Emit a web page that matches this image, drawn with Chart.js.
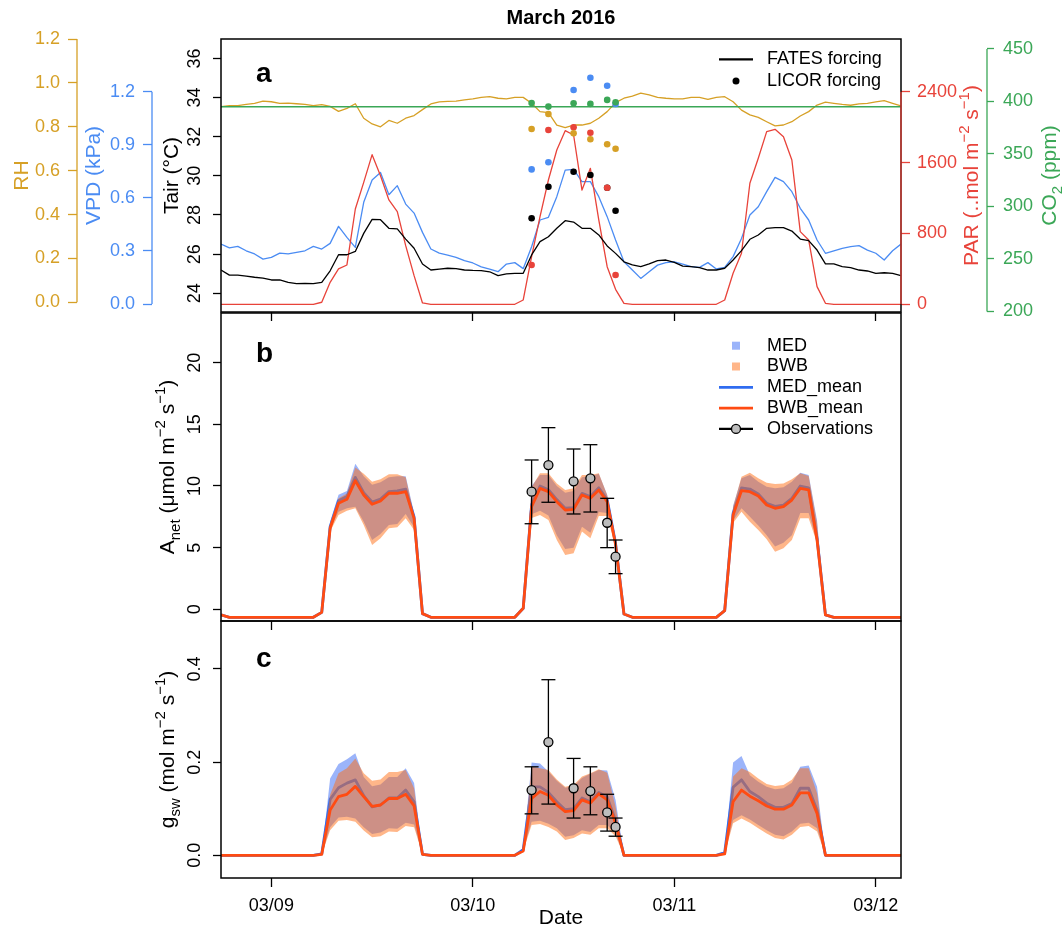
<!DOCTYPE html>
<html>
<head>
<meta charset="utf-8">
<title>March 2016</title>
<script src="https://cdn.jsdelivr.net/npm/chart.js@4.4.1/dist/chart.umd.min.js"></script>
<style>
  html, body { margin: 0; padding: 0; background: #fff; overflow: hidden; }
  #wrap { position: relative; width: 1063px; height: 931px; }
  canvas { position: absolute; left: 0; }
</style>
</head>
<body>
<div id="wrap">
  <canvas id="panelA" width="1063" height="321" style="top:0px"></canvas>
  <canvas id="panelB" width="1063" height="330" style="top:300px"></canvas>
  <canvas id="panelC" width="1063" height="321" style="top:610px"></canvas>
</div>
<script>
const FONT = 'Helvetica, "Liberation Sans", Arial, sans-serif';

// hourly time axis, hours since 03/09 00:00
const hours = Array.from({ length: 82 }, (_, i) => i - 6);
const dayTicks = [0, 24, 48, 72];
const dayLabels = ['03/09', '03/10', '03/11', '03/12'];

// ---- panel a: FATES forcing (hourly, h = -6 .. 75)
const tairForcing = [
  25.19, 24.93, 24.93, 24.88, 24.82, 24.78,
  24.68, 24.68, 24.56, 24.49, 24.51, 24.49, 24.56, 25.15, 25.97, 25.97, 26.14, 27.06,
  27.78, 27.76, 27.32, 27.29, 26.77, 26.30, 25.50, 25.19, 25.24, 25.28, 25.26, 25.19,
  25.17, 25.16, 25.10, 24.90, 24.99, 25.02, 25.02, 25.96, 26.64, 26.89, 27.32, 27.71,
  27.64, 27.32, 27.32, 26.98, 26.42, 26.04, 25.61, 25.45, 25.36, 25.50, 25.67, 25.70,
  25.58, 25.39, 25.36, 25.31, 25.19, 25.19, 25.28, 25.70, 26.18, 26.76, 26.98, 27.32,
  27.35, 27.35, 27.18, 26.77, 26.69, 26.21, 25.50, 25.50, 25.36, 25.31, 25.19, 25.14,
  25.02, 25.05, 25.02, 24.90
];
const vpdForcing = [
  0.339, 0.317, 0.326, 0.301, 0.283, 0.254,
  0.264, 0.288, 0.283, 0.292, 0.301, 0.326, 0.311, 0.343, 0.439, 0.377, 0.320, 0.575,
  0.701, 0.744, 0.618, 0.669, 0.565, 0.514, 0.405, 0.311, 0.288, 0.277, 0.264, 0.245,
  0.232, 0.210, 0.198, 0.183, 0.226, 0.234, 0.200, 0.324, 0.475, 0.490, 0.607, 0.757,
  0.761, 0.692, 0.692, 0.607, 0.494, 0.362, 0.239, 0.192, 0.145, 0.183, 0.220, 0.234,
  0.239, 0.226, 0.211, 0.207, 0.234, 0.198, 0.207, 0.268, 0.371, 0.503, 0.550, 0.635,
  0.716, 0.692, 0.635, 0.541, 0.475, 0.362, 0.287, 0.301, 0.315, 0.324, 0.330, 0.305,
  0.287, 0.249, 0.301, 0.339
];
const rhForcing = [
  0.892, 0.896, 0.896, 0.902, 0.907, 0.917,
  0.914, 0.907, 0.908, 0.905, 0.902, 0.896, 0.901, 0.893, 0.870, 0.884, 0.905, 0.839,
  0.813, 0.800, 0.829, 0.816, 0.839, 0.851, 0.878, 0.904, 0.913, 0.916, 0.917, 0.923,
  0.927, 0.934, 0.937, 0.930, 0.927, 0.934, 0.934, 0.907, 0.869, 0.864, 0.808, 0.796,
  0.808, 0.808, 0.816, 0.839, 0.869, 0.910, 0.930, 0.940, 0.953, 0.945, 0.934, 0.930,
  0.927, 0.927, 0.934, 0.934, 0.925, 0.934, 0.937, 0.914, 0.876, 0.854, 0.843, 0.823,
  0.804, 0.808, 0.823, 0.849, 0.869, 0.899, 0.912, 0.907, 0.902, 0.898, 0.904, 0.907,
  0.913, 0.919, 0.907, 0.895
];
const parForcing = [
  0, 0, 0, 0, 0, 0,
  0, 0, 0, 0, 0, 0, 23, 248, 399, 444, 1076, 1377,
  1689, 1452, 1178, 1046, 662, 323, 15, 0, 0, 0, 0, 0,
  0, 0, 0, 0, 0, 0, 49, 537, 989, 1403, 1742, 1960,
  1911, 1290, 1535, 952, 424, 169, 11, 0, 0, 0, 0, 0,
  0, 0, 0, 0, 0, 0, 49, 350, 576, 1366, 1648, 1949,
  1975, 1892, 1629, 820, 726, 199, 11, 0, 0, 0, 0, 0,
  0, 0, 0, 0
];
const co2Hours = [-6, 75];
const co2Forcing = [395, 395];

// ---- panel a: LICOR chamber readings
const licorHours = [31, 33, 36, 38, 40, 41];
const licorTair = [27.83, 29.44, 30.21, 30.04, 29.39, 28.22];
const licorVpd = [0.761, 0.801, 1.210, 1.279, 1.234, 1.131];
const licorRh = [0.790, 0.858, 0.770, 0.743, 0.720, 0.700];
const licorPar = [444, 1968, 1998, 1937, 1316, 331];
const licorCo2 = [398.6, 395.1, 398.3, 397.7, 401.5, 399.3];

// ---- panel b: net assimilation (umol m-2 s-1)
const bwbMeanB = [
  -0.45, -0.65, -0.65, -0.65, -0.65, -0.65,
  -0.65, -0.65, -0.65, -0.65, -0.65, -0.65, -0.25, 6.57, 8.60, 8.92, 10.43, 9.27,
  8.52, 8.78, 9.41, 9.41, 9.54, 7.38, -0.35, -0.65, -0.65, -0.65, -0.65, -0.65,
  -0.65, -0.65, -0.65, -0.65, -0.65, -0.65, 0.08, 8.32, 9.81, 9.54, 8.73, 8.05,
  8.11, 9.27, 9.00, 9.68, 8.73, 5.25, -0.38, -0.65, -0.65, -0.65, -0.65, -0.65,
  -0.65, -0.65, -0.65, -0.65, -0.65, -0.65, -0.11, 7.65, 9.62, 9.54, 9.19, 8.46,
  8.19, 8.32, 8.86, 9.81, 9.68, 5.62, -0.46, -0.65, -0.65, -0.65, -0.65, -0.65,
  -0.65, -0.65, -0.65, -0.65
];
const bwbLoB = [
  -0.45, -0.65, -0.65, -0.65, -0.65, -0.65,
  -0.65, -0.65, -0.65, -0.65, -0.65, -0.65, -0.25, 6.30, 7.65, 8.00, 8.19, 6.84,
  5.21, 5.76, 6.57, 6.65, 7.38, 6.43, -0.35, -0.65, -0.65, -0.65, -0.65, -0.65,
  -0.65, -0.65, -0.65, -0.65, -0.65, -0.65, 0.08, 7.40, 7.65, 7.24, 5.62, 4.40,
  4.54, 6.30, 5.76, 7.57, 7.57, 5.00, -0.38, -0.65, -0.65, -0.65, -0.65, -0.65,
  -0.65, -0.65, -0.65, -0.65, -0.65, -0.65, -0.11, 7.00, 7.92, 7.11, 6.43, 5.68,
  4.67, 4.95, 5.62, 7.38, 7.38, 5.35, -0.46, -0.65, -0.65, -0.65, -0.65, -0.65,
  -0.65, -0.65, -0.65, -0.65
];
const bwbHiB = [
  -0.45, -0.65, -0.65, -0.65, -0.65, -0.65,
  -0.65, -0.65, -0.65, -0.65, -0.65, -0.65, -0.25, 7.00, 9.00, 9.40, 11.50, 11.00,
  10.35, 10.54, 10.95, 10.95, 10.70, 7.65, -0.35, -0.65, -0.65, -0.65, -0.65, -0.65,
  -0.65, -0.65, -0.65, -0.65, -0.65, -0.65, 0.08, 9.90, 11.03, 11.03, 10.21, 9.68,
  9.81, 10.89, 10.89, 11.03, 9.27, 5.62, -0.38, -0.65, -0.65, -0.65, -0.65, -0.65,
  -0.65, -0.65, -0.65, -0.65, -0.65, -0.65, -0.11, 8.30, 10.75, 11.08, 10.62, 10.27,
  10.16, 10.20, 10.54, 11.03, 10.81, 6.97, -0.46, -0.65, -0.65, -0.65, -0.65, -0.65,
  -0.65, -0.65, -0.65, -0.65
];
const medMeanB = [
  -0.45, -0.65, -0.65, -0.65, -0.65, -0.65,
  -0.65, -0.65, -0.65, -0.65, -0.65, -0.65, -0.25, 6.70, 8.80, 9.15, 10.70, 9.45,
  8.70, 8.95, 9.55, 9.60, 9.75, 7.50, -0.35, -0.65, -0.65, -0.65, -0.65, -0.65,
  -0.65, -0.65, -0.65, -0.65, -0.65, -0.65, 0.08, 8.50, 10.00, 9.70, 8.90, 8.20,
  8.25, 9.40, 9.15, 9.85, 8.90, 5.35, -0.38, -0.65, -0.65, -0.65, -0.65, -0.65,
  -0.65, -0.65, -0.65, -0.65, -0.65, -0.65, -0.11, 7.80, 9.85, 9.75, 9.35, 8.60,
  8.35, 8.45, 9.00, 10.00, 9.85, 5.75, -0.46, -0.65, -0.65, -0.65, -0.65, -0.65,
  -0.65, -0.65, -0.65, -0.65
];
const medLoB = [
  -0.45, -0.65, -0.65, -0.65, -0.65, -0.65,
  -0.65, -0.65, -0.65, -0.65, -0.65, -0.65, -0.25, 6.50, 7.92, 8.19, 8.32, 7.11,
  5.62, 6.11, 6.84, 6.92, 7.73, 6.65, -0.35, -0.65, -0.65, -0.65, -0.65, -0.65,
  -0.65, -0.65, -0.65, -0.65, -0.65, -0.65, 0.08, 7.70, 8.00, 7.60, 6.00, 4.90,
  5.00, 6.70, 6.20, 7.90, 7.80, 5.15, -0.38, -0.65, -0.65, -0.65, -0.65, -0.65,
  -0.65, -0.65, -0.65, -0.65, -0.65, -0.65, -0.11, 7.20, 8.20, 7.50, 6.80, 6.00,
  5.10, 5.40, 6.00, 7.80, 7.80, 5.50, -0.46, -0.65, -0.65, -0.65, -0.65, -0.65,
  -0.65, -0.65, -0.65, -0.65
];
const medHiB = [
  -0.45, -0.65, -0.65, -0.65, -0.65, -0.65,
  -0.65, -0.65, -0.65, -0.65, -0.65, -0.65, -0.25, 7.10, 9.30, 9.60, 11.80, 10.80,
  10.10, 10.30, 10.70, 10.80, 10.80, 7.80, -0.35, -0.65, -0.65, -0.65, -0.65, -0.65,
  -0.65, -0.65, -0.65, -0.65, -0.65, -0.65, 0.08, 10.00, 10.90, 10.90, 10.00, 9.45,
  9.60, 10.70, 10.80, 11.00, 9.30, 5.80, -0.38, -0.65, -0.65, -0.65, -0.65, -0.65,
  -0.65, -0.65, -0.65, -0.65, -0.65, -0.65, -0.11, 8.40, 10.62, 10.89, 10.35, 9.94,
  9.81, 9.89, 10.35, 11.08, 10.89, 7.20, -0.46, -0.65, -0.65, -0.65, -0.65, -0.65,
  -0.65, -0.65, -0.65, -0.65
];
const obsHours = [31, 33, 36, 38, 40, 41];
const anetObs = [9.54, 11.70, 10.38, 10.62, 7.02, 4.27];
const anetObsLo = [6.94, 8.68, 7.73, 7.89, 5.00, 2.89];
const anetObsHi = [12.11, 14.73, 13.00, 13.35, 9.00, 5.62];

// ---- panel c: stomatal conductance (mol m-2 s-1)
const bwbMeanC = [
  0, 0, 0, 0, 0, 0,
  0, 0, 0, 0, 0, 0, 0.002, 0.097, 0.126, 0.131, 0.148, 0.126,
  0.105, 0.108, 0.122, 0.122, 0.131, 0.106, 0.002, 0, 0, 0, 0, 0,
  0, 0, 0, 0, 0, 0, 0.009, 0.122, 0.137, 0.129, 0.108, 0.094,
  0.096, 0.119, 0.112, 0.132, 0.119, 0.069, 0, 0, 0, 0, 0, 0,
  0, 0, 0, 0, 0, 0, 0.003, 0.115, 0.140, 0.127, 0.117, 0.106,
  0.099, 0.099, 0.108, 0.134, 0.134, 0.090, 0, 0, 0, 0, 0, 0,
  0, 0, 0, 0
];
const bwbLoC = [
  0, 0, 0, 0, 0, 0,
  0, 0, 0, 0, 0, 0, 0.002, 0.054, 0.074, 0.076, 0.072, 0.053,
  0.039, 0.041, 0.051, 0.050, 0.063, 0.060, 0.002, 0, 0, 0, 0, 0,
  0, 0, 0, 0, 0, 0, 0.009, 0.065, 0.067, 0.061, 0.051, 0.033,
  0.037, 0.047, 0.044, 0.058, 0.058, 0.041, 0, 0, 0, 0, 0, 0,
  0, 0, 0, 0, 0, 0, 0.003, 0.069, 0.079, 0.070, 0.058, 0.047,
  0.037, 0.034, 0.044, 0.061, 0.063, 0.051, 0, 0, 0, 0, 0, 0,
  0, 0, 0, 0
];
const bwbHiC = [
  0, 0, 0, 0, 0, 0,
  0, 0, 0, 0, 0, 0, 0.002, 0.130, 0.176, 0.187, 0.208, 0.176,
  0.160, 0.163, 0.179, 0.179, 0.183, 0.144, 0.002, 0, 0, 0, 0, 0,
  0, 0, 0, 0, 0, 0, 0.009, 0.190, 0.187, 0.183, 0.163, 0.147,
  0.151, 0.169, 0.176, 0.185, 0.177, 0.104, 0, 0, 0, 0, 0, 0,
  0, 0, 0, 0, 0, 0, 0.003, 0.169, 0.187, 0.179, 0.165, 0.153,
  0.149, 0.151, 0.162, 0.187, 0.187, 0.133, 0, 0, 0, 0, 0, 0,
  0, 0, 0, 0
];
const medMeanC = [
  0, 0, 0, 0, 0, 0,
  0, 0, 0, 0, 0, 0, 0.003, 0.120, 0.145, 0.155, 0.162, 0.128,
  0.104, 0.108, 0.123, 0.123, 0.140, 0.115, 0.002, 0, 0, 0, 0, 0,
  0, 0, 0, 0, 0, 0, 0.012, 0.147, 0.147, 0.135, 0.115, 0.098,
  0.100, 0.123, 0.115, 0.135, 0.125, 0.075, 0, 0, 0, 0, 0, 0,
  0, 0, 0, 0, 0, 0, 0.006, 0.146, 0.162, 0.137, 0.126, 0.112,
  0.103, 0.103, 0.111, 0.144, 0.144, 0.097, 0, 0, 0, 0, 0, 0,
  0, 0, 0, 0
];
const medLoC = [
  0, 0, 0, 0, 0, 0,
  0, 0, 0, 0, 0, 0, 0.002, 0.060, 0.081, 0.083, 0.079, 0.060,
  0.046, 0.049, 0.058, 0.057, 0.070, 0.066, 0.002, 0, 0, 0, 0, 0,
  0, 0, 0, 0, 0, 0, 0.009, 0.072, 0.074, 0.068, 0.058, 0.040,
  0.043, 0.054, 0.050, 0.065, 0.065, 0.046, 0, 0, 0, 0, 0, 0,
  0, 0, 0, 0, 0, 0, 0.003, 0.076, 0.086, 0.077, 0.065, 0.054,
  0.044, 0.041, 0.051, 0.068, 0.070, 0.058, 0, 0, 0, 0, 0, 0,
  0, 0, 0, 0
];
const medHiC = [
  0, 0, 0, 0, 0, 0,
  0, 0, 0, 0, 0, 0, 0.004, 0.165, 0.196, 0.206, 0.219, 0.168,
  0.148, 0.152, 0.168, 0.168, 0.187, 0.155, 0.002, 0, 0, 0, 0, 0,
  0, 0, 0, 0, 0, 0, 0.015, 0.199, 0.197, 0.180, 0.160, 0.145,
  0.148, 0.166, 0.175, 0.183, 0.182, 0.119, 0, 0, 0, 0, 0, 0,
  0, 0, 0, 0, 0, 0, 0.008, 0.199, 0.213, 0.172, 0.158, 0.147,
  0.142, 0.144, 0.156, 0.190, 0.193, 0.147, 0, 0, 0, 0, 0, 0,
  0, 0, 0, 0
];
const gswObs = [0.140, 0.243, 0.144, 0.138, 0.092, 0.061];
const gswObsLo = [0.089, 0.110, 0.080, 0.087, 0.052, 0.041];
const gswObsHi = [0.190, 0.377, 0.208, 0.190, 0.131, 0.080];

// axis ticks
const tairTicks = [24, 26, 28, 30, 32, 34, 36];
const rhTicks = [0, 0.2, 0.4, 0.6, 0.8, 1.0, 1.2];
const vpdTicks = [0, 0.3, 0.6, 0.9, 1.2];
const parTicks = [0, 800, 1600, 2400];
const co2Ticks = [200, 250, 300, 350, 400, 450];
const anetTicks = [0, 5, 10, 15, 20];
const gswTicks = [0, 0.2, 0.4];

const COL = {
  rh: '#d6a026', vpd: '#4b8cf3', par: '#e8433a', co2: '#3ba757',
  med: '#2f6cf0', bwb: '#ff4b12',
  medBand: 'rgba(72,118,245,0.55)', bwbBand: 'rgba(255,110,20,0.5)',
  obsFill: '#bdbdbd'
};

Chart.defaults.font.family = FONT;
Chart.defaults.color = '#000';

const xy = (xs, ys) => xs.map((x, i) => ({ x, y: ys[i] }));

// draws a label made of plain, sub- and superscript runs, centred on (x, y)
function richText(ctx, parts, x, y, size, color, angle) {
  const small = Math.round(size * 0.72);
  const runs = parts.map(p => {
    const r = typeof p === 'string' ? { t: p } : p;
    const fs = (r.sub || r.sup) ? small : size;
    ctx.font = fs + 'px ' + FONT;
    return Object.assign({}, r, { fs, w: ctx.measureText(r.t).width });
  });
  const total = runs.reduce((s, r) => s + r.w, 0);
  ctx.save();
  ctx.translate(x, y);
  ctx.rotate(angle);
  ctx.fillStyle = color;
  ctx.textAlign = 'left';
  ctx.textBaseline = 'alphabetic';
  let cx = -total / 2;
  const base = size * 0.36;
  runs.forEach(r => {
    ctx.font = r.fs + 'px ' + FONT;
    const dy = r.sub ? size * 0.3 : (r.sup ? -size * 0.42 : 0);
    ctx.fillText(r.t, cx, base + dy);
    cx += r.w;
  });
  ctx.restore();
}

function drawKey(ctx, it, x, y) {
  ctx.save();
  if (it.line) {
    ctx.strokeStyle = it.line;
    ctx.lineWidth = it.width;
    ctx.beginPath();
    ctx.moveTo(x - 17, y);
    ctx.lineTo(x + 17, y);
    ctx.stroke();
  }
  if (it.square) {
    ctx.fillStyle = it.square;
    ctx.fillRect(x - 4, y - 4, 8, 8);
  }
  if (it.dot) {
    ctx.fillStyle = it.dot;
    ctx.beginPath();
    ctx.arc(x, y, it.r, 0, Math.PI * 2);
    ctx.fill();
    if (it.edge) {
      ctx.strokeStyle = it.edge;
      ctx.lineWidth = 1.3;
      ctx.stroke();
    }
  }
  ctx.restore();
}

// frame, R-style axis lines, axis titles, panel letter and legend
function deco(cfg) {
  return {
    id: 'deco',
    afterDraw(chart) {
      const ctx = chart.ctx;
      const a = chart.chartArea;
      ctx.save();
      ctx.strokeStyle = '#000';
      ctx.lineWidth = 1.5;
      ctx.strokeRect(a.left, a.top, a.right - a.left, a.bottom - a.top);

      (cfg.axisLines || []).forEach(l => {
        const s = chart.scales[l.id];
        const t = s.ticks;
        const x = s.position === 'left' ? s.right : s.left;
        ctx.strokeStyle = l.color;
        ctx.lineWidth = 1.3;
        ctx.beginPath();
        ctx.moveTo(x, s.getPixelForValue(t[0].value));
        ctx.lineTo(x, s.getPixelForValue(t[t.length - 1].value));
        ctx.stroke();
      });

      (cfg.titles || []).forEach(t => {
        const s = chart.scales[t.id];
        richText(ctx, t.parts, s.left + t.dx, (a.top + a.bottom) / 2, 21, t.color, -Math.PI / 2);
      });

      if (cfg.heading) {
        ctx.font = 'bold 20px ' + FONT;
        ctx.fillStyle = '#000';
        ctx.textAlign = 'center';
        ctx.textBaseline = 'middle';
        ctx.fillText(cfg.heading, (a.left + a.right) / 2, a.top - 21);
      }

      ctx.font = 'bold 28px ' + FONT;
      ctx.fillStyle = '#000';
      ctx.textAlign = 'left';
      ctx.textBaseline = 'alphabetic';
      ctx.fillText(cfg.letter, a.left + 35, a.top + cfg.letterDy);

      if (cfg.legend) {
        const L = cfg.legend;
        L.items.forEach((it, k) => {
          const y = a.top + L.dy + k * L.gap;
          drawKey(ctx, it, a.right - 165, y);
          ctx.font = '18px ' + FONT;
          ctx.fillStyle = '#000';
          ctx.textAlign = 'left';
          ctx.textBaseline = 'middle';
          ctx.fillText(it.label, a.right - 134, y);
        });
      }
      ctx.restore();
    }
  };
}

// scales keep no extra label padding, so every panel lines up on the same plot edges
function noPadding(s) {
  s.paddingTop = 0;
  s.paddingBottom = 0;
  s.paddingLeft = 0;
  s.paddingRight = 0;
}

function yScale(o) {
  const rot = o.rotate ? 90 : 0;
  return {
    type: 'linear',
    position: o.side,
    weight: o.weight,
    min: o.min,
    max: o.max,
    afterBuildTicks: s => { s.ticks = o.ticks.map(v => ({ value: v })); },
    afterFit: s => { s.width = o.width; noPadding(s); },
    ticks: {
      color: o.color, font: { size: 18 }, padding: o.pad, autoSkip: false,
      minRotation: rot, maxRotation: rot, crossAlign: o.rotate ? 'center' : 'near',
      callback: o.format
    },
    grid: { drawOnChartArea: false, tickLength: o.tick || 8, tickWidth: 1.3, tickColor: o.color },
    border: { display: false }
  };
}

function xScale(withLabels) {
  return {
    type: 'linear',
    position: 'bottom',
    min: hours[0],
    max: hours[hours.length - 1],
    afterBuildTicks: s => { s.ticks = dayTicks.map(v => ({ value: v })); },
    afterFit: s => { s.height = withLabels ? 53 : 9; noPadding(s); },
    ticks: {
      display: withLabels, autoSkip: false, maxRotation: 0, color: '#000',
      font: { size: 18 }, padding: 8,
      callback: v => dayLabels[dayTicks.indexOf(v)]
    },
    grid: { drawOnChartArea: false, tickLength: 9, tickWidth: 1.3, tickColor: '#000' },
    border: { display: false },
    title: { display: withLabels, text: 'Date', color: '#000', font: { size: 21 }, padding: 0 }
  };
}

function baseOptions(padding, scales) {
  return {
    responsive: false,
    animation: false,
    devicePixelRatio: 1,
    events: [],
    layout: { padding },
    scales,
    elements: { line: { tension: 0, borderJoinStyle: 'round' }, point: { radius: 0 } },
    plugins: {
      legend: { display: false },
      tooltip: { enabled: false },
      filler: { drawTime: 'beforeDatasetDraw', propagate: false }
    }
  };
}

function trace(xs, ys, color, axis, width, order) {
  return { data: xy(xs, ys), yAxisID: axis, borderColor: color, borderWidth: width,
           pointRadius: 0, fill: false, order };
}
function dots(xs, ys, color, axis, order, r, edge) {
  return { data: xy(xs, ys), yAxisID: axis, showLine: false, pointRadius: r,
           pointBackgroundColor: color, pointBorderColor: edge || color,
           pointBorderWidth: edge ? 1.3 : 0, order };
}
function bandEdge(ys, order, fillColor) {
  return { data: xy(hours, ys), borderColor: 'rgba(0,0,0,0)', borderWidth: 1, pointRadius: 0,
           fill: fillColor ? '-1' : false, backgroundColor: fillColor || 'rgba(0,0,0,0)', order };
}
function errorBars(xs, lo, hi, order) {
  const data = [];
  xs.forEach((x, i) => { data.push({ x, y: lo[i] }, { x, y: hi[i] }, { x, y: null }); });
  return { data, borderColor: '#000', borderWidth: 1.3, pointStyle: 'line', pointRadius: 7,
           pointBorderColor: '#000', pointBorderWidth: 1.3, fill: false, spanGaps: false, order };
}

// ---------------- panel a
new Chart(document.getElementById('panelA'), {
  type: 'line',
  data: {
    datasets: [
      trace(hours, rhForcing, COL.rh, 'yR', 1.3, 20),
      trace(co2Hours, co2Forcing, COL.co2, 'yC', 1.3, 19),
      trace(hours, vpdForcing, COL.vpd, 'yV', 1.3, 18),
      trace(hours, parForcing, COL.par, 'yP', 1.3, 17),
      trace(hours, tairForcing, '#000', 'yT', 1.3, 16),
      dots(licorHours, licorTair, '#000', 'yT', 10, 3.3),
      dots(licorHours, licorVpd, COL.vpd, 'yV', 9, 3.3),
      dots(licorHours, licorPar, COL.par, 'yP', 8, 3.3),
      dots(licorHours, licorRh, COL.rh, 'yR', 7, 3.3),
      dots(licorHours, licorCo2, COL.co2, 'yC', 6, 3.3)
    ]
  },
  options: baseOptions({ top: 39, bottom: 0, left: 0, right: 0 }, {
    x: xScale(false),
    yR: yScale({ side: 'left', weight: 2, width: 77, min: -0.0442, max: 1.2, ticks: rhTicks,
                 color: COL.rh, pad: 8, tick: 9, format: v => v.toFixed(1) }),
    yV: yScale({ side: 'left', weight: 1, width: 75, min: -0.045, max: 1.498, ticks: vpdTicks,
                 color: COL.vpd, pad: 8, tick: 9, format: v => v.toFixed(1) }),
    yT: yScale({ side: 'left', weight: 0, width: 69, min: 23.045, max: 36.99, ticks: tairTicks,
                 color: '#000', pad: 8.4, rotate: true, format: v => String(v) }),
    yP: yScale({ side: 'right', weight: 0, width: 86, min: -87, max: 2995, ticks: parTicks,
                 color: COL.par, pad: 7, tick: 9, format: v => String(v) }),
    yC: yScale({ side: 'right', weight: 1, width: 76, min: 199.5, max: 459.5, ticks: co2Ticks,
                 color: COL.co2, pad: 9, tick: 7, format: v => String(v) })
  }),
  plugins: [deco({
    heading: 'March 2016',
    letter: 'a', letterDy: 43,
    axisLines: [{ id: 'yR', color: COL.rh }, { id: 'yV', color: COL.vpd },
                { id: 'yP', color: COL.par }, { id: 'yC', color: COL.co2 }],
    titles: [
      { id: 'yR', dx: 20, color: COL.rh, parts: ['RH'] },
      { id: 'yV', dx: 15, color: COL.vpd, parts: ['VPD (kPa)'] },
      { id: 'yT', dx: 18, color: '#000', parts: ['Tair (°C)'] },
      { id: 'yP', dx: 69, color: COL.par, parts: ['PAR (..mol m', { t: '−2', sup: true }, ' s', { t: '−1', sup: true }, ')'] },
      { id: 'yC', dx: 61, color: COL.co2, parts: ['CO', { t: '2', sub: true }, ' (ppm)'] }
    ],
    legend: { dy: 20.3, gap: 21.7, items: [
      { label: 'FATES forcing', line: '#000', width: 2.2 },
      { label: 'LICOR forcing', dot: '#000', r: 3.5 }
    ] }
  })]
});

// ---------------- panel b
new Chart(document.getElementById('panelB'), {
  type: 'line',
  data: {
    datasets: [
      bandEdge(medLoB, 8),
      bandEdge(medHiB, 7, COL.medBand),
      trace(hours, medMeanB, COL.med, 'y', 2.8, 6),
      bandEdge(bwbLoB, 5),
      bandEdge(bwbHiB, 4, COL.bwbBand),
      trace(hours, bwbMeanB, COL.bwb, 'y', 2.8, 3),
      errorBars(obsHours, anetObsLo, anetObsHi, 2),
      dots(obsHours, anetObs, COL.obsFill, 'y', 1, 4.5, '#000')
    ]
  },
  options: baseOptions({ top: 13, bottom: 0, left: 0, right: 162 }, {
    x: xScale(false),
    y: yScale({ side: 'left', weight: 0, width: 221, min: -0.949, max: 24.03, ticks: anetTicks,
                color: '#000', pad: 8.4, rotate: true, format: v => String(v) })
  }),
  plugins: [deco({
    letter: 'b', letterDy: 48.7,
    titles: [{ id: 'y', dx: 166, color: '#000', parts: ['A', { t: 'net', sub: true }, ' (μmol m', { t: '−2', sup: true }, ' s', { t: '−1', sup: true }, ')'] }],
    legend: { dy: 32.7, gap: 20.8, items: [
      { label: 'MED', square: COL.medBand },
      { label: 'BWB', square: COL.bwbBand },
      { label: 'MED_mean', line: COL.med, width: 2.8 },
      { label: 'BWB_mean', line: COL.bwb, width: 2.8 },
      { label: 'Observations', line: '#000', width: 2.2, dot: COL.obsFill, r: 4.5, edge: '#000' }
    ] }
  })]
});

// ---------------- panel c
new Chart(document.getElementById('panelC'), {
  type: 'line',
  data: {
    datasets: [
      bandEdge(medLoC, 8),
      bandEdge(medHiC, 7, COL.medBand),
      trace(hours, medMeanC, COL.med, 'y', 2.8, 6),
      bandEdge(bwbLoC, 5),
      bandEdge(bwbHiC, 4, COL.bwbBand),
      trace(hours, bwbMeanC, COL.bwb, 'y', 2.8, 3),
      errorBars(obsHours, gswObsLo, gswObsHi, 2),
      dots(obsHours, gswObs, COL.obsFill, 'y', 1, 4.5, '#000')
    ]
  },
  options: baseOptions({ top: 11, bottom: 0, left: 0, right: 162 }, {
    x: xScale(true),
    y: yScale({ side: 'left', weight: 0, width: 221, min: -0.0487, max: 0.503, ticks: gswTicks,
                color: '#000', pad: 5.9, rotate: true, format: v => v.toFixed(1) })
  }),
  plugins: [deco({
    letter: 'c', letterDy: 46,
    titles: [{ id: 'y', dx: 166, color: '#000', parts: ['g', { t: 'sw', sub: true }, ' (mol m', { t: '−2', sup: true }, ' s', { t: '−1', sup: true }, ')'] }]
  })]
});
</script>
</body>
</html>
